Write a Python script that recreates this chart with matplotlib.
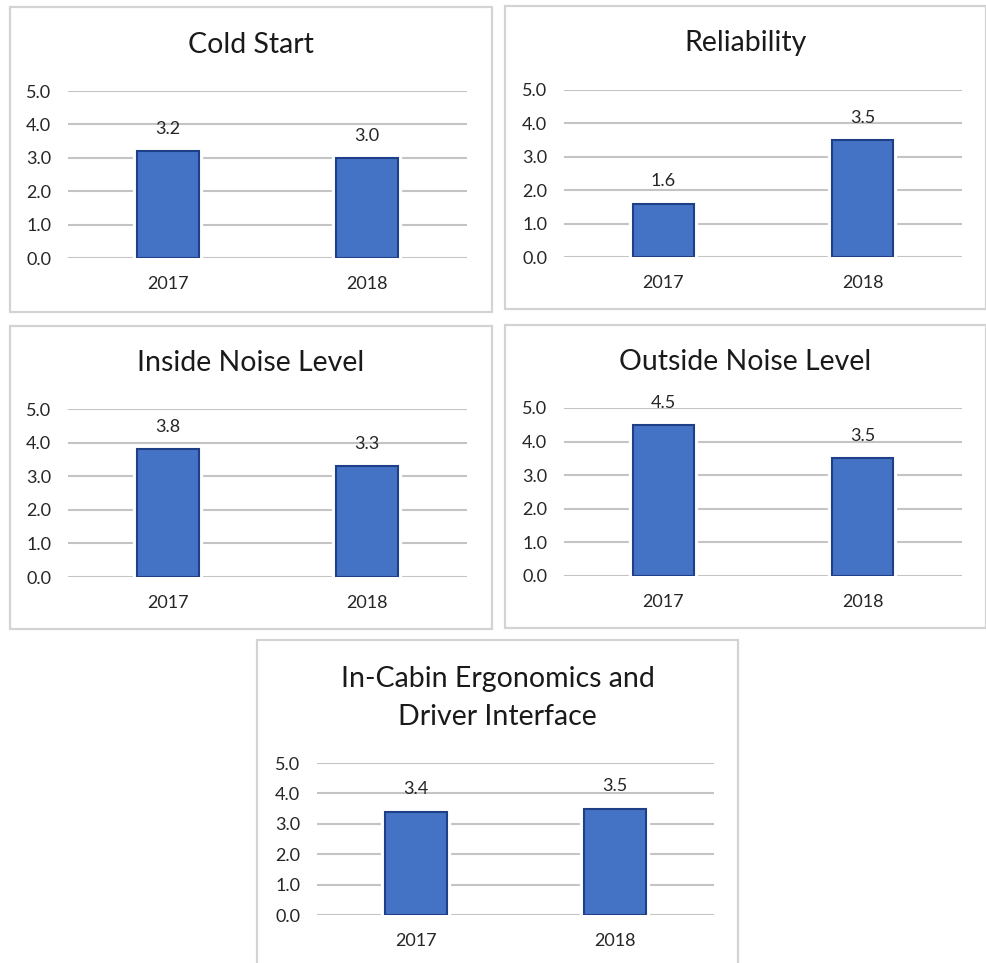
import matplotlib

matplotlib.use("Agg")
import matplotlib.pyplot as plt
import matplotlib.patheffects as pe
from matplotlib.patches import Rectangle

plt.rcParams["font.family"] = ["Lato", "DejaVu Sans"]

years = ["2017", "2018"]
titles = [
    "Cold Start",
    "Reliability",
    "Inside Noise Level",
    "Outside Noise Level",
    "In-Cabin Ergonomics and\nDriver Interface",
]
cold_start = [3.2, 3.0]
reliability = [1.6, 3.5]
inside_noise = [3.8, 3.3]
outside_noise = [4.5, 3.5]
ergonomics = [3.4, 3.5]
series = [cold_start, reliability, inside_noise, outside_noise, ergonomics]
y_ticks = [0.0, 1.0, 2.0, 3.0, 4.0, 5.0]

W, H = 987, 963
BAR_FILL = "#4472C4"
BAR_EDGE = "#1F3F86"
GRID = "#C4C4C4"
BORDER = "#D3D3D3"

# pixel layout: border box (x0, y0, x1, y1), plot box (x0, y0, x1, y1), title y
layout = [
    ((10, 7, 492, 312), (68, 91, 467, 258), 45),
    ((505, 6, 986, 309), (564, 90, 962, 257), 43),
    ((10, 326, 492, 629), (68, 409, 467, 577), 363),
    ((505, 325, 986, 628), (564, 408, 962, 576), 362),
    ((257, 640, 738, 1000), (317, 763, 714, 915), 698),
]


def fx(px):
    return px / W


def fy(py):
    return 1 - py / H


fig = plt.figure(figsize=(W / 100, H / 100), dpi=100)
fig.patch.set_facecolor("white")

for title, values, (box, plot, title_y) in zip(titles, series, layout):
    bx0, by0, bx1, by1 = box
    fig.add_artist(Rectangle((fx(bx0), fy(by1)), fx(bx1 - bx0), (by1 - by0) / H,
                             transform=fig.transFigure, facecolor="white",
                             edgecolor=BORDER, linewidth=1.6, zorder=0))
    px0, py0, px1, py1 = plot
    ax = fig.add_axes([fx(px0), fy(py1), fx(px1 - px0), (py1 - py0) / H])
    ax.set_facecolor("none")
    bars = ax.bar(range(len(years)), values, width=0.31, color=BAR_FILL,
                  edgecolor=BAR_EDGE, linewidth=1.5, zorder=3)
    for bar in bars:
        bar.set_path_effects([pe.Stroke(linewidth=6, foreground="white"), pe.Normal()])
    for i, v in enumerate(values):
        ax.annotate(f"{v:.1f}", (i, v), xytext=(0, 16), textcoords="offset points",
                    ha="center", va="center", fontsize=13, color="#262626", zorder=2)
    ax.set_xlim(-0.5, len(years) - 0.5)
    ax.set_ylim(0, 5)
    ax.set_yticks(y_ticks)
    ax.set_yticklabels([f"{t:.1f}" for t in y_ticks])
    ax.set_xticks(range(len(years)))
    ax.set_xticklabels(years)
    ax.tick_params(length=0, labelsize=13, labelcolor="#262626")
    ax.tick_params(axis="y", pad=12)
    ax.tick_params(axis="x", pad=13)
    ax.yaxis.grid(True, color=GRID, linewidth=1.5, zorder=0)
    ax.set_axisbelow(True)
    for spine in ax.spines.values():
        spine.set_visible(False)
    fig.text(fx((bx0 + bx1) / 2), fy(title_y), title, ha="center", va="center",
             fontsize=20.5, color="#1a1a1a", linespacing=1.6)

fig.savefig("out.png", dpi=100)
